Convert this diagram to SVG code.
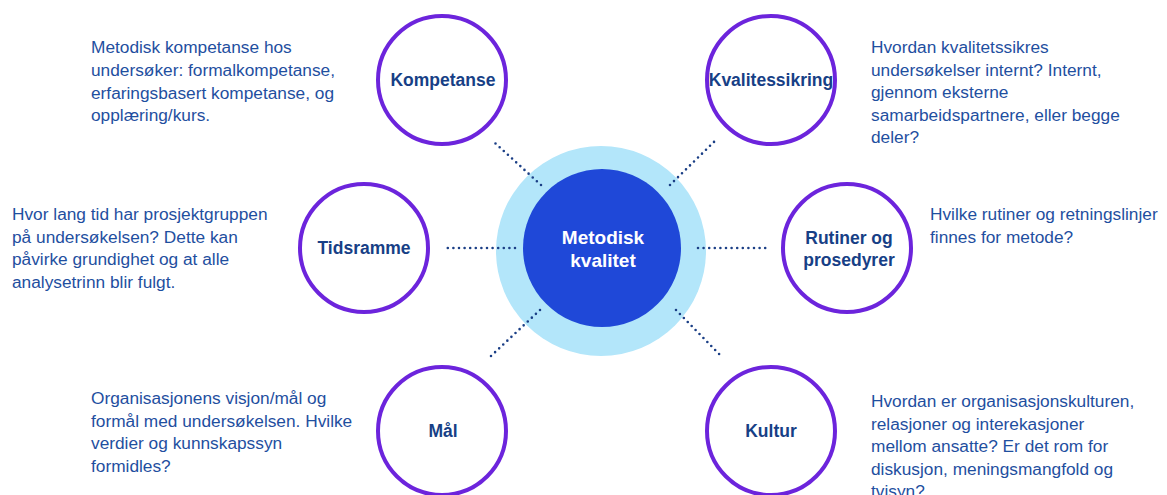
<svg xmlns="http://www.w3.org/2000/svg" width="1167" height="495" viewBox="0 0 1167 495">
<style>
.node circle.sat{fill:#ffffff;stroke:#6c24dc;stroke-width:4}
.lbl{font-family:"Liberation Sans",Arial,sans-serif;font-weight:bold;font-size:17.5px;fill:#173f86;text-anchor:middle}
.desc{font-family:"Liberation Sans",Arial,sans-serif;font-size:17.3px;fill:#1f4f9f}
.conn line{stroke:#1b3f86;stroke-width:2.6;stroke-linecap:round;stroke-dasharray:0 5.6}
</style>
<rect width="1167" height="495" fill="#ffffff"/>
<g id="center">
<circle cx="601" cy="251" r="105" fill="#b3e6fa"/>
<circle cx="602" cy="248" r="79" fill="#1f48d8"/>
<text x="603" y="244" style="font-family:'Liberation Sans',Arial,sans-serif;font-weight:bold;font-size:19px;fill:#ffffff;text-anchor:middle">Metodisk</text>
<text x="603" y="267" style="font-family:'Liberation Sans',Arial,sans-serif;font-weight:bold;font-size:19px;fill:#ffffff;text-anchor:middle">kvalitet</text>
</g>
<g id="connectors" class="conn">
<line x1="541" y1="185" x2="495" y2="143"/>
<line x1="670" y1="185" x2="718" y2="138"/>
<line x1="515" y1="248" x2="447" y2="248"/>
<line x1="698" y1="248" x2="767" y2="248"/>
<line x1="540" y1="310" x2="491" y2="356"/>
<line x1="676" y1="310" x2="722" y2="357"/>
</g>
<g id="kompetanse" class="node">
<circle class="sat" cx="442" cy="80" r="64"/>
<text class="lbl" x="443" y="86">Kompetanse</text>
</g>
<g id="kvalitessikring" class="node">
<circle class="sat" cx="771" cy="80" r="64"/>
<text class="lbl" x="771" y="86">Kvalitessikring</text>
</g>
<g id="tidsramme" class="node">
<circle class="sat" cx="364" cy="248" r="64"/>
<text class="lbl" x="364" y="254">Tidsramme</text>
</g>
<g id="rutiner" class="node">
<circle class="sat" cx="847" cy="248" r="64"/>
<text class="lbl" x="849" y="244">Rutiner og</text>
<text class="lbl" x="849" y="266">prosedyrer</text>
</g>
<g id="maal" class="node">
<circle class="sat" cx="442" cy="431" r="64"/>
<text class="lbl" x="443" y="437">Mål</text>
</g>
<g id="kultur" class="node">
<circle class="sat" cx="771" cy="431" r="64"/>
<text class="lbl" x="771" y="437">Kultur</text>
</g>
<g id="desc-kompetanse">
<text class="desc" x="91" y="53">Metodisk kompetanse hos</text>
<text class="desc" x="91" y="76">undersøker: formalkompetanse,</text>
<text class="desc" x="91" y="98.5">erfaringsbasert kompetanse, og</text>
<text class="desc" x="91" y="121">opplæring/kurs.</text>
</g>
<g id="desc-kvalitessikring">
<text class="desc" x="871" y="53">Hvordan kvalitetssikres</text>
<text class="desc" x="871" y="75.5">undersøkelser internt? Internt,</text>
<text class="desc" x="871" y="98">gjennom eksterne</text>
<text class="desc" x="871" y="120.5">samarbeidspartnere, eller begge</text>
<text class="desc" x="871" y="143">deler?</text>
</g>
<g id="desc-tidsramme">
<text class="desc" x="12" y="220">Hvor lang tid har prosjektgruppen</text>
<text class="desc" x="12" y="242.5">på undersøkelsen? Dette kan</text>
<text class="desc" x="12" y="265">påvirke grundighet og at alle</text>
<text class="desc" x="12" y="287.5">analysetrinn blir fulgt.</text>
</g>
<g id="desc-rutiner">
<text class="desc" x="930" y="220">Hvilke rutiner og retningslinjer</text>
<text class="desc" x="930" y="242.5">finnes for metode?</text>
</g>
<g id="desc-maal">
<text class="desc" x="91" y="404">Organisasjonens visjon/mål og</text>
<text class="desc" x="91" y="426.5">formål med undersøkelsen. Hvilke</text>
<text class="desc" x="91" y="449">verdier og kunnskapssyn</text>
<text class="desc" x="91" y="471.5">formidles?</text>
</g>
<g id="desc-kultur">
<text class="desc" x="871" y="407">Hvordan er organisasjonskulturen,</text>
<text class="desc" x="871" y="429.5">relasjoner og interekasjoner</text>
<text class="desc" x="871" y="452">mellom ansatte? Er det rom for</text>
<text class="desc" x="871" y="474.5">diskusjon, meningsmangfold og</text>
<text class="desc" x="871" y="497">tvisyn?</text>
</g>
</svg>
